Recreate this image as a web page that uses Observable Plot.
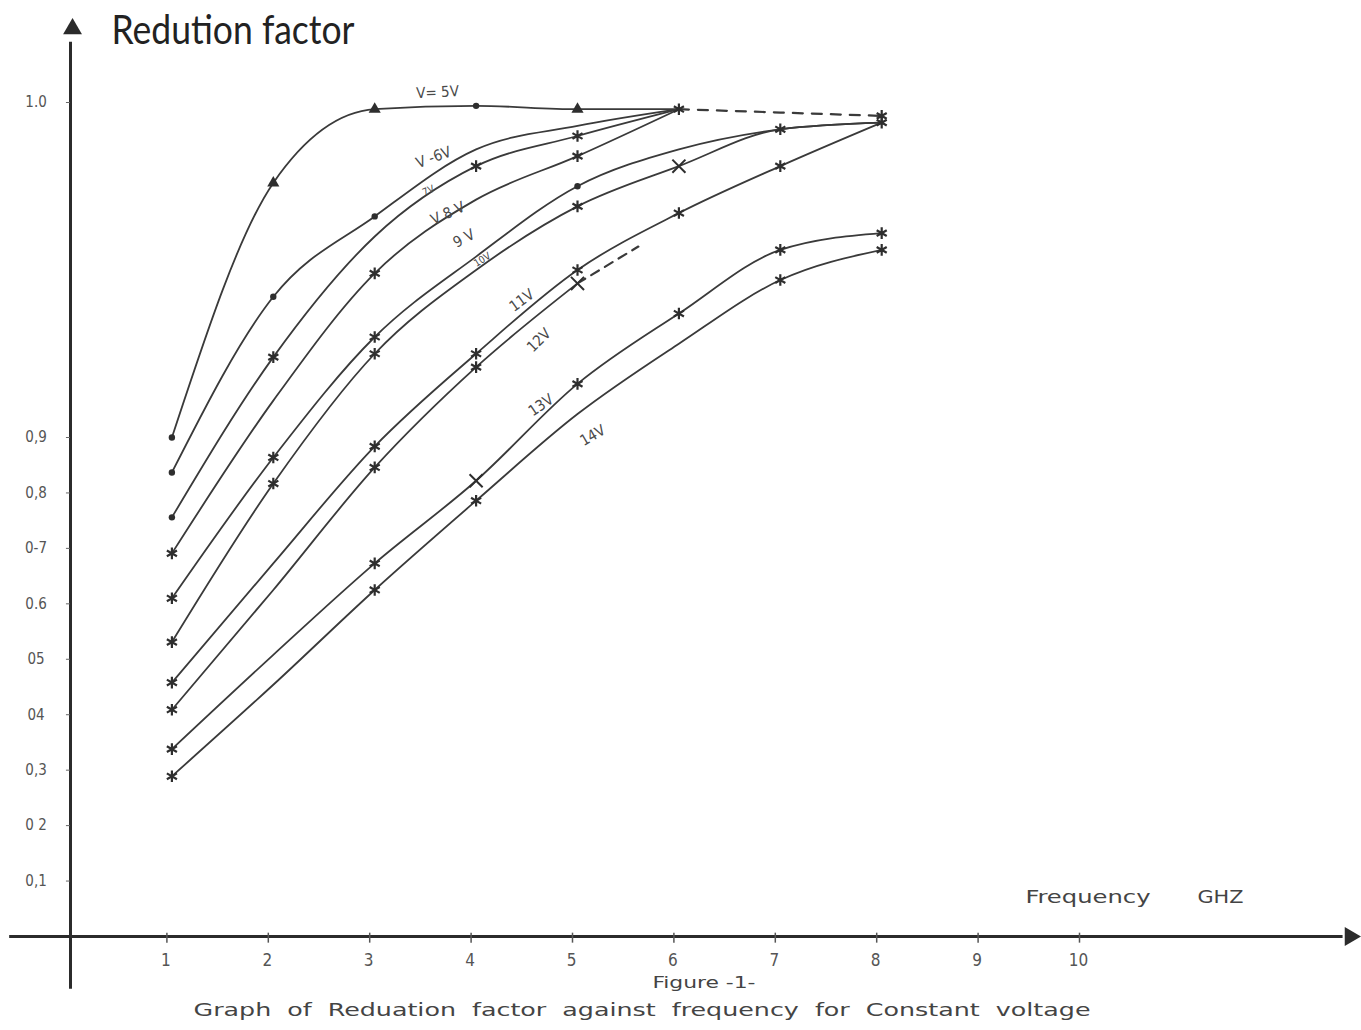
<!DOCTYPE html>
<html><head><meta charset="utf-8">
<script src="https://cdn.jsdelivr.net/npm/d3@7"></script>
<script src="https://cdn.jsdelivr.net/npm/@observablehq/plot@0.6"></script>
<style>body{margin:0;background:#fff;} svg{display:block;}</style>
</head><body><div id="chart"></div>
<script>
// ---- data (frequency in GHz, reduction factor) ----
const frequencies = [1, 2, 3, 4, 5, 6, 7, 8];
const voltages = ["5V", "6V", "7V", "8V", "9V", "10V", "11V", "12V", "13V", "14V"];
const volt5  = [0.900, 0.976, 0.998, 0.999, 0.998, 0.998];
const volt6  = [0.837, 0.942, 0.966, 0.986, 0.993, 0.998];
const volt7  = [0.756, 0.924, 0.960, 0.981, 0.990, 0.998];
const volt8  = [0.691, 0.911, 0.949, 0.971, 0.984, 0.998];
const volt9  = [0.610, 0.864, 0.930, 0.954, 0.975, 0.986, 0.992, 0.994];
const volt10 = [0.531, 0.817, 0.925, 0.950, 0.969, 0.981, 0.992, 0.994];
const volt11 = [0.458, 0.673, 0.884, 0.925, 0.950, 0.967, 0.981, 0.994];
const volt12 = [0.409, 0.625, 0.846, 0.921, 0.946];
const volt13 = [0.338, 0.508, 0.673, 0.822, 0.916, 0.937, 0.956, 0.961];
const volt14 = [0.289, 0.454, 0.625, 0.786, 0.907, 0.928, 0.947, 0.956];
// dashed continuations
const dash5Freq = [6, 7, 8];
const dash5Vals = [0.998, 0.997, 0.996];
const dash12Freq = [5, 5.6];
const dash12Vals = [0.946, 0.957];
// plotted point markers (o = dot, * = asterisk, ^ = triangle, x = cross, "" = none)
const mark5  = ["o", "^", "^", "o", "^", ""];
const mark6  = ["o", "o", "o", "", "", ""];
const mark7  = ["o", "*", "", "*", "*", ""];
const mark8  = ["*", "", "*", "", "*", "*"];
const mark9  = ["*", "*", "*", "", "o", "", "*", ""];
const mark10 = ["*", "*", "*", "", "*", "x", "", ""];
const mark11 = ["*", "", "*", "*", "*", "*", "*", "*"];
const mark12 = ["*", "", "*", "*", "x"];
const mark13 = ["*", "", "*", "x", "*", "*", "*", "*"];
const mark14 = ["*", "", "*", "*", "", "", "*", "*"];
const dash5Mark = ["", "", "*"];
// curve labels: text, anchor frequency, anchor factor, angle
const curveLabelText = ["V= 5V", "V -6V", "7V", "V 8 V", "9 V", "10V", "11V", "12V", "13V", "14V"];
const curveLabelFreq = [3.62, 3.58, 3.53, 3.72, 3.88, 4.06, 4.45, 4.62, 4.64, 5.15];
const curveLabelVal  = [1.003, 0.9836, 0.9737, 0.9669, 0.9594, 0.9531, 0.9409, 0.929, 0.9096, 0.9006];
const curveLabelRot  = [-3, -20, -24, -24, -28, -32, -36, -45, -34, -30];
// axes
const yTicks = [0.1, 0.2, 0.3, 0.4, 0.5, 0.6, 0.7, 0.8, 0.9, 1.0];
const yTickLabels = ["0,1", "0 2", "0,3", "04", "05", "0.6", "0-7", "0,8", "0,9", "1.0"];
const xTicks = [1, 2, 3, 4, 5, 6, 7, 8, 9, 10];
const xTickLabels = ["1", "2", "3", "4", "5", "6", "7", "8", "9", "10"];
const title = "Redution factor";
const xTitle = "Frequency", xUnit = "GHZ";
const figureLabel = "Figure -1-";
const caption = "Graph  of  Reduation  factor  against  frequency  for  Constant  voltage";

// ---- build tables ----
const allVals = [volt5, volt6, volt7, volt8, volt9, volt10, volt11, volt12, volt13, volt14];
const allMarks = [mark5, mark6, mark7, mark8, mark9, mark10, mark11, mark12, mark13, mark14];
const lineData = voltages.flatMap((v, k) => allVals[k].map((y, i) => ({v, x: frequencies[i], y, m: allMarks[k][i]})));
const dash5 = dash5Freq.map((x, i) => ({x, y: dash5Vals[i], m: dash5Mark[i]}));
const dash12 = dash12Freq.map((x, i) => ({x, y: dash12Vals[i]}));
const markData = lineData.concat(dash5).filter(d => d.m);
const labels = curveLabelText.map((t, i) => ({t, x: curveLabelFreq[i], y: curveLabelVal[i], r: curveLabelRot[i]}));

const ink = "#3a3a3a";
const letterFont = "DejaVu Sans Condensed, DejaVu Sans, sans-serif";
const txt = (s, dx, dy, size, cls, font, fill) => Plot.text([s], {frameAnchor: "top-left", dx, dy, textAnchor: "start", lineAnchor: "middle", fontSize: size, fontFamily: font, fill, className: cls});

const chart = Plot.plot({
  width: 1361, height: 1030,
  marginTop: 0, marginRight: 0, marginBottom: 0, marginLeft: 0,
  style: {background: "#fff"},
  x: {domain: [0, 10], range: [70, 1084], axis: null},
  y: {type: "linear", domain: [0, 0.9, 1.0], range: [936, 437, 102], axis: null},
  marks: [
    // axes
    Plot.ruleY([0], {x1: -0.6, x2: 12.55, stroke: "#2b2b2b", strokeWidth: 3}),
    Plot.dot([0], {x: 12.62, y: 0, symbol: "triangle", rotate: 90, r: 7, fill: "#2b2b2b"}),
    Plot.ruleX([0], {y1: -0.095, y2: 1.018, stroke: "#2b2b2b", strokeWidth: 3}),
    Plot.dot([0], {x: 0.02, y: 1.022, symbol: "triangle", r: 7, fill: "#2b2b2b"}),
    Plot.ruleX(xTicks, {x: d => d, y1: -0.012, y2: 0.006, stroke: "#555", strokeWidth: 1.5, dx: -5}),
    Plot.text(xTicks, {x: d => d, y: -0.043, text: (d, i) => xTickLabels[i], dx: -6, fontSize: 17, fontFamily: letterFont, fill: "#555"}),
    Plot.ruleY(yTicks, {y: d => d, x1: -0.04, x2: 0, stroke: "#666", strokeWidth: 1}),
    Plot.text(yTicks, {y: d => d, x: -0.34, text: (d, i) => yTickLabels[i], fontSize: 15, fontFamily: letterFont, fill: "#555"}),
    // curves
    Plot.line(lineData, {x: "x", y: "y", z: "v", curve: "monotone-x", stroke: ink, strokeWidth: 1.8}),
    Plot.line(dash5, {x: "x", y: "y", stroke: ink, strokeWidth: 2.2, strokeDasharray: "10,9"}),
    Plot.line(dash12, {x: "x", y: "y", stroke: ink, strokeWidth: 2.2, strokeDasharray: "9,7"}),
    // markers
    Plot.dot(markData.filter(d => d.m === "o"), {x: "x", y: "y", symbol: "circle", r: 3.2, fill: "#2e2e2e"}),
    Plot.dot(markData.filter(d => d.m === "^"), {x: "x", y: "y", symbol: "triangle", r: 4.5, fill: "#2e2e2e"}),
    Plot.dot(markData.filter(d => d.m === "*"), {x: "x", y: "y", symbol: "asterisk", r: 5.5, stroke: "#2e2e2e", strokeWidth: 2.2}),
    Plot.dot(markData.filter(d => d.m === "x"), {x: "x", y: "y", symbol: "times", r: 6, stroke: "#2e2e2e", strokeWidth: 2}),
    // curve labels
    Plot.text(labels, {x: "x", y: "y", text: "t", rotate: "r", fontSize: d => (d.t === "7V" || d.t === "10V") ? 10 : 15, fontFamily: letterFont, fill: "#4a4a4a"}),
    // titles
    txt(title, 111, 31, 40, "ttl", "Lato, Open Sans, sans-serif", "#222"),
    txt(xTitle, 1025, 897, 18, "xt", letterFont, "#444"),
    txt(xUnit, 1197, 897, 18, "xu", letterFont, "#444"),
    txt(figureLabel, 652, 982, 16, "fig", letterFont, "#444"),
    txt(caption, 193, 1010, 18, "cap", letterFont, "#444")
  ]
});

const s = d3.select(chart);
const fit = (cls, len) => s.selectAll("." + cls + " text").attr("textLength", len).attr("lengthAdjust", "spacingAndGlyphs");
fit("ttl", 243); fit("xt", 125); fit("xu", 46); fit("fig", 103); fit("cap", 897);
s.selectAll(".cap text").style("white-space", "pre");
document.getElementById("chart").appendChild(chart);
</script>
</body></html>
